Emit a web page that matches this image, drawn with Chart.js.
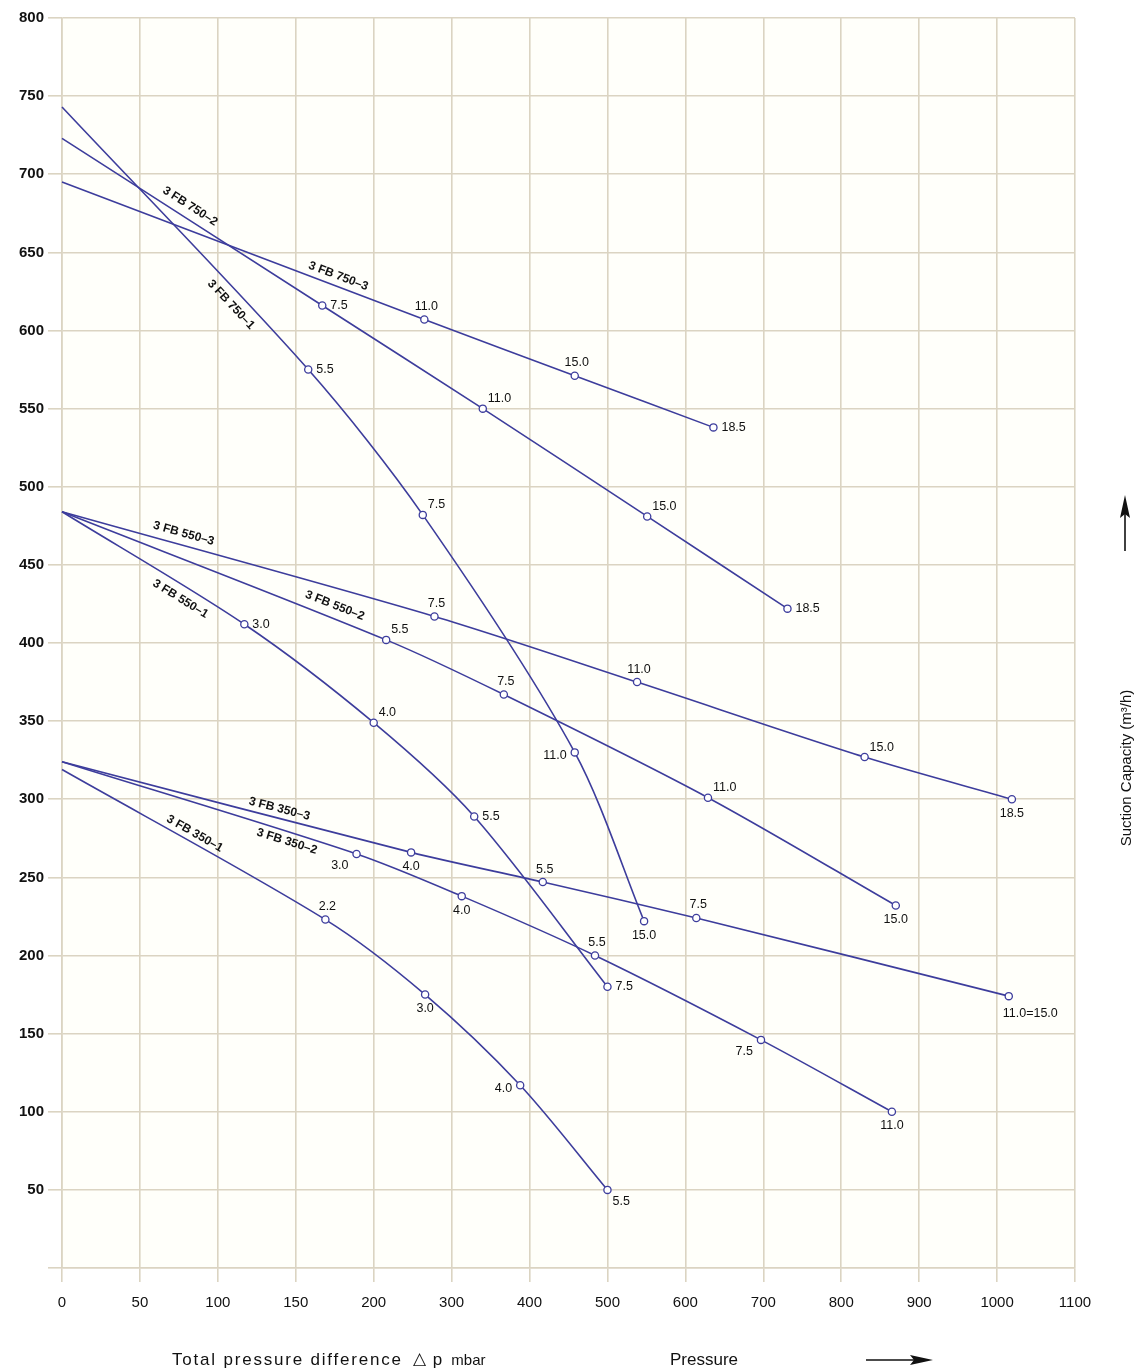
<!DOCTYPE html>
<html lang="en">
<head>
<meta charset="UTF-8">
<title>3 FB suction capacity</title>
<script src="https://cdn.jsdelivr.net/npm/chart.js"></script>
<style>
  html, body { margin: 0; padding: 0; background: #fff; }
</style>
</head>
<body>
<canvas id="chart" width="1142" height="1369"></canvas>
<script>
// x axis: 50 mbar per grid step up to 200, then 100 per step
const xTicks = [0, 50, 100, 150, 200, 300, 400, 500, 600, 700, 800, 900, 1000, 1100];

// pressure (mbar), suction capacity (m3/h), motor rating (kW) per pump
const p750_1 = [0, 158, 263, 458, 547];
const q750_1 = [743, 575, 482, 330, 222];
const kw750_1 = ['', '5.5', '7.5', '11.0', '15.0'];

const p750_2 = [0, 167, 340, 551, 731];
const q750_2 = [723, 616, 550, 481, 422];
const kw750_2 = ['', '7.5', '11.0', '15.0', '18.5'];

const p750_3 = [0, 265, 458, 636];
const q750_3 = [695, 607, 571, 538];
const kw750_3 = ['', '11.0', '15.0', '18.5'];

const p550_1 = [0, 117, 200, 329, 500];
const q550_1 = [484, 412, 349, 289, 180];
const kw550_1 = ['', '3.0', '4.0', '5.5', '7.5'];

const p550_2 = [0, 216, 367, 629, 870];
const q550_2 = [484, 402, 367, 301, 232];
const kw550_2 = ['', '5.5', '7.5', '11.0', '15.0'];

const p550_3 = [0, 278, 538, 830, 1019];
const q550_3 = [484, 417, 375, 327, 300];
const kw550_3 = ['', '7.5', '11.0', '15.0', '18.5'];

const p350_1 = [0, 169, 266, 388, 500];
const q350_1 = [319, 223, 175, 117, 50];
const kw350_1 = ['', '2.2', '3.0', '4.0', '5.5'];

const p350_2 = [0, 189, 313, 484, 697, 865];
const q350_2 = [324, 265, 238, 200, 146, 100];
const kw350_2 = ['', '3.0', '4.0', '5.5', '7.5', '11.0'];

const p350_3 = [0, 248, 417, 614, 1015];
const q350_3 = [324, 266, 247, 224, 174];
const kw350_3 = ['', '4.0', '5.5', '7.5', '11.0=15.0'];

const series = [
  { name: '3 FB 750\u20131', p: p750_1, q: q750_1, kw: kw750_1 },
  { name: '3 FB 750\u20132', p: p750_2, q: q750_2, kw: kw750_2 },
  { name: '3 FB 750\u20133', p: p750_3, q: q750_3, kw: kw750_3 },
  { name: '3 FB 550\u20131', p: p550_1, q: q550_1, kw: kw550_1 },
  { name: '3 FB 550\u20132', p: p550_2, q: q550_2, kw: kw550_2 },
  { name: '3 FB 550\u20133', p: p550_3, q: q550_3, kw: kw550_3 },
  { name: '3 FB 350\u20131', p: p350_1, q: q350_1, kw: kw350_1 },
  { name: '3 FB 350\u20132', p: p350_2, q: q350_2, kw: kw350_2 },
  { name: '3 FB 350\u20133', p: p350_3, q: q350_3, kw: kw350_3 }
];

// label layout (kept apart from the data)
const kwPlace = [
  ['', 'r', 'ar', 'l', 'b'],
  ['', 'r', 'ar', 'ar', 'r'],
  ['', 'a', 'a', 'r'],
  ['', 'r', 'ar', 'r', 'r'],
  ['', 'ar', 'a', 'ar', 'b'],
  ['', 'a', 'a', 'ar', 'b'],
  ['', 'a', 'b', 'l', 'br'],
  ['', 'bl', 'b', 'a', 'bl', 'b'],
  ['', 'b', 'a', 'a', 'bw']
];
const nameAt = [114, 78, 175, 80, 172, 76, 82, 146, 138];
const nameSide = [-12, 12, 10, -12, 13, 12, 10, -9, 9];

const place = {
  r:  { dx: 8,  dy: 0,   align: 'left' },
  ar: { dx: 5,  dy: -10, align: 'left' },
  a:  { dx: 2,  dy: -13, align: 'center' },
  b:  { dx: 0,  dy: 14,  align: 'center' },
  l:  { dx: -8, dy: 3,   align: 'right' },
  bl: { dx: -8, dy: 12,  align: 'right' },
  br: { dx: 5,  dy: 12,  align: 'left' },
  bw: { dx: -6, dy: 17,  align: 'left' }
};

const lineColor = '#3d3d9c';
const gridColor = '#dbd4c2';
const font = "'Liberation Sans', Arial, sans-serif";

function toStep(v) { return v <= 200 ? v / 50 : 4 + (v - 200) / 100; }
function fromStep(s) { return s <= 4 ? s * 50 : 200 + (s - 4) * 100; }

class PressureScale extends Chart.LinearScale {
  buildTicks() { return xTicks.map(v => ({ value: v })); }
  getPixelForValue(value) { return this.getPixelForDecimal(toStep(value) / toStep(this.max)); }
  getValueForPixel(pixel) { return fromStep(this.getDecimalForPixel(pixel) * toStep(this.max)); }
}
PressureScale.id = 'pressure';
PressureScale.defaults = Chart.LinearScale.defaults;
Chart.register(PressureScale);

const plotBg = {
  id: 'plotBg',
  beforeDraw(chart) {
    const { ctx, chartArea: a } = chart;
    ctx.save();
    ctx.fillStyle = '#fffffa';
    ctx.fillRect(a.left, a.top, a.right - a.left, a.bottom - a.top);
    ctx.restore();
  }
};

const labels = {
  id: 'labels',
  afterDatasetsDraw(chart) {
    const { ctx } = chart;
    const xs = chart.scales.x, ys = chart.scales.y;
    ctx.save();
    ctx.fillStyle = '#111';
    ctx.textBaseline = 'middle';
    // motor ratings next to the points
    ctx.font = '12.5px ' + font;
    series.forEach((s, si) => {
      s.kw.forEach((t, i) => {
        if (!t) return;
        const pl = place[kwPlace[si][i]];
        ctx.textAlign = pl.align;
        ctx.fillText(t, xs.getPixelForValue(s.p[i]) + pl.dx, ys.getPixelForValue(s.q[i]) + pl.dy);
      });
    });
    // pump names along the curves
    ctx.font = '600 12px ' + font;
    ctx.textAlign = 'center';
    series.forEach((s, si) => {
      const at = nameAt[si];
      let k = 0;
      while (k < s.p.length - 2 && s.p[k + 1] < at) k++;
      const x0 = xs.getPixelForValue(s.p[k]), y0 = ys.getPixelForValue(s.q[k]);
      const x1 = xs.getPixelForValue(s.p[k + 1]), y1 = ys.getPixelForValue(s.q[k + 1]);
      const ax = xs.getPixelForValue(at);
      const ay = y0 + (y1 - y0) * (ax - x0) / (x1 - x0);
      const ang = Math.atan2(y1 - y0, x1 - x0);
      const off = nameSide[si];
      ctx.save();
      ctx.translate(ax + Math.sin(ang) * off, ay - Math.cos(ang) * off);
      ctx.rotate(ang);
      ctx.fillText(s.name, 0, 0);
      ctx.restore();
    });
    ctx.restore();
  }
};

const titles = {
  id: 'titles',
  afterDraw(chart) {
    const { ctx } = chart;
    ctx.save();
    ctx.fillStyle = '#111';
    ctx.strokeStyle = '#111';
    ctx.textBaseline = 'middle';
    ctx.textAlign = 'left';
    ctx.font = '17px ' + font;
    ctx.letterSpacing = '1.8px';
    ctx.fillText('Total pressure difference', 172, 1360);
    let x = 172 + ctx.measureText('Total pressure difference').width + 10;
    ctx.letterSpacing = '0px';
    ctx.fillText('\u25B3', x, 1359);
    x += ctx.measureText('\u25B3').width + 7;
    ctx.fillText('p', x, 1360);
    x += ctx.measureText('p').width + 9;
    ctx.font = '15px ' + font;
    ctx.fillText('mbar', x, 1361);
    ctx.font = '17px ' + font;
    ctx.fillText('Pressure', 670, 1360);
    // x arrow
    ctx.lineWidth = 1.6;
    ctx.beginPath(); ctx.moveTo(866, 1360); ctx.lineTo(918, 1360); ctx.stroke();
    ctx.beginPath(); ctx.moveTo(933, 1360); ctx.lineTo(910, 1355); ctx.lineTo(914, 1360); ctx.lineTo(910, 1365); ctx.closePath(); ctx.fill();
    // y arrow
    ctx.beginPath(); ctx.moveTo(1125, 551); ctx.lineTo(1125, 510); ctx.stroke();
    ctx.beginPath(); ctx.moveTo(1125, 495); ctx.lineTo(1120, 518); ctx.lineTo(1125, 514); ctx.lineTo(1130, 518); ctx.closePath(); ctx.fill();
    // y title
    ctx.translate(1127, 768);
    ctx.rotate(-Math.PI / 2);
    ctx.textAlign = 'center';
    ctx.font = '15px ' + font;
    ctx.fillText('Suction Capacity (m\u00B3/h)', 0, 0);
    ctx.restore();
  }
};

new Chart(document.getElementById('chart'), {
  type: 'line',
  data: {
    datasets: series.map(s => ({
      label: s.name,
      data: s.p.map((p, i) => ({ x: p, y: s.q[i] })),
      borderColor: lineColor,
      borderWidth: 1.6,
      tension: 0.3,
      pointRadius: s.p.map((p, i) => (i === 0 ? 0 : 3.6)),
      pointBackgroundColor: '#ffffff',
      pointBorderColor: lineColor,
      pointBorderWidth: 1.3,
      clip: false
    }))
  },
  options: {
    responsive: false,
    animation: false,
    devicePixelRatio: 1,
    layout: { padding: { top: 18, right: 67, left: 0, bottom: 0 } },
    plugins: { legend: { display: false }, tooltip: { enabled: false } },
    scales: {
      x: {
        type: 'pressure',
        min: 0,
        max: 1100,
        afterFit(scale) { scale.height = 101; },
        grid: { color: gridColor, lineWidth: 1.6, tickLength: 14, tickColor: gridColor },
        border: { color: gridColor, width: 1.6 },
        ticks: {
          autoSkip: false,
          maxRotation: 0,
          padding: 12,
          color: '#111',
          font: { family: font, size: 15 },
          callback: v => String(v)
        }
      },
      y: {
        type: 'linear',
        min: 0,
        max: 800,
        afterFit(scale) { scale.width = 62; },
        grid: { color: gridColor, lineWidth: 1.6, tickLength: 14, tickColor: gridColor },
        border: { color: gridColor, width: 1.6 },
        ticks: {
          stepSize: 50,
          padding: 4,
          color: '#111',
          font: { family: font, size: 15, weight: 'bold' },
          callback: v => (v === 0 ? '' : String(v))
        }
      }
    }
  },
  plugins: [plotBg, labels, titles]
});
</script>
</body>
</html>
